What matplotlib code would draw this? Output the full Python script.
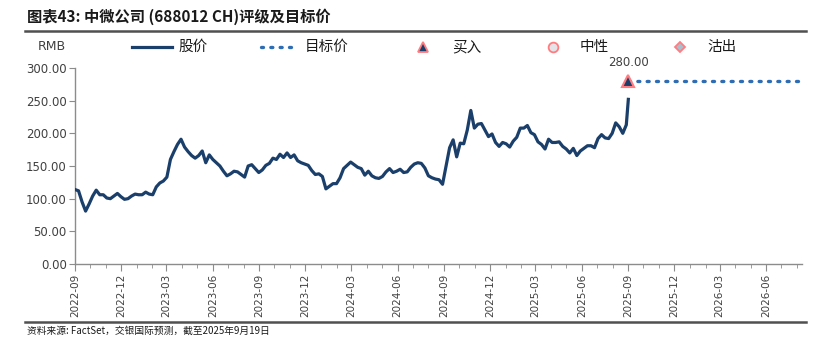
import matplotlib
matplotlib.use("Agg")
import matplotlib.pyplot as plt
from matplotlib.lines import Line2D
from matplotlib.ticker import FuncFormatter, MultipleLocator
import pandas as pd

plt.rcParams['font.family'] = ['Noto Sans CJK SC', 'DejaVu Sans']

# ---- data ----
start_date = "2022-09-19"
last_date = "2025-09-19"
weekly_prices = [
    114, 112, 95, 81, 92, 104, 113, 106, 106, 101,
    100, 104, 108, 103, 99, 100, 104, 107, 106, 106,
    110, 107, 106, 118, 124, 127, 133, 160, 172, 183,
    191, 179, 172, 166, 162, 166, 173, 155, 167, 160,
    155, 150, 142, 135, 138, 142, 141, 137, 133, 150,
    152, 146, 140, 144, 151, 154, 162, 160, 168, 163,
    170, 163, 167, 158, 155, 153, 151, 143, 137, 138,
    134, 115, 119, 123, 123, 132, 146, 151, 156, 152,
    148, 146, 136, 142, 135, 132, 131, 134, 141, 146,
    140, 142, 145, 140, 141, 148, 153, 155, 154, 147,
    135, 132, 130, 129, 122, 150, 178, 190, 164, 185,
    184, 205, 235, 208, 214, 215, 205, 195, 199, 186,
    180, 186, 184, 179, 188, 194, 208, 208, 212, 201,
    198, 187, 183, 176, 191, 186, 186, 187, 180, 176,
    170, 177, 166, 173, 177, 181, 181, 178, 192, 198,
    193, 192, 200, 216, 210, 200, 213,
]
last_price = 252
target_price = 280.00
target_end = "2026-08-29"
axis_start = "2022-09-19"
tick_labels = ["2022-09", "2022-12", "2023-03", "2023-06", "2023-09", "2023-12",
               "2024-03", "2024-06", "2024-09", "2024-12", "2025-03", "2025-06",
               "2025-09", "2025-12", "2026-03", "2026-06"]

dates = list(pd.date_range(start_date, periods=len(weekly_prices), freq="7D")) + [pd.Timestamp(last_date)]
prices = weekly_prices + [last_price]

navy = "#1B3F6B"
dot_blue = "#2E6DB4"
pink = "#FF7C80"
grey_txt = "#404040"

fig = plt.figure(figsize=(8.21, 3.54), dpi=100)
ax = fig.add_axes([75/821, (354-264)/354, (802-75)/821, 196/354])

ax.plot(dates, prices, color=navy, lw=2.3, solid_joinstyle="round", zorder=3)
ax.plot([pd.Timestamp(last_date), pd.Timestamp(target_end)], [target_price, target_price],
        color=dot_blue, lw=2.4, linestyle=(0, (0.6, 2.2)), dash_capstyle="round", zorder=2)
ax.plot([pd.Timestamp(last_date)], [target_price], marker="^", ms=9, mfc=navy, mec=pink,
        mew=1.5, ls="none", zorder=4)
ax.annotate(f"{target_price:.2f}", (pd.Timestamp(last_date), target_price), xytext=(0, 9),
            textcoords="offset points", ha="center", va="bottom", fontsize=8.5, color=grey_txt,
            family=["DejaVu Sans"])

ax.set_xlim(pd.Timestamp(axis_start), pd.Timestamp(target_end))
ax.set_ylim(0, 300)
ax.yaxis.set_major_locator(MultipleLocator(50))
ax.yaxis.set_major_formatter(FuncFormatter(lambda v, p: f"{v:.2f}"))

major = [pd.Timestamp(t + "-19") for t in tick_labels]
minor = pd.date_range("2022-09-01", "2026-08-01", freq="MS") + pd.Timedelta(days=18)
ax.set_xticks(major)
ax.set_xticks(minor, minor=True)
ax.set_xticklabels(tick_labels, rotation=90, fontsize=7.5,
                   color=grey_txt, family=["DejaVu Sans"])
for lab in ax.get_yticklabels():
    lab.set_fontsize(8.5)
    lab.set_color(grey_txt)
    lab.set_family(["DejaVu Sans"])

for s in ["top", "right"]:
    ax.spines[s].set_visible(False)
for s in ["left", "bottom"]:
    ax.spines[s].set_color("#8C8C8C")
    ax.spines[s].set_linewidth(1.0)
ax.tick_params(axis="y", which="major", length=4, color="#8C8C8C", pad=2)
ax.tick_params(axis="x", which="major", length=5, color="#8C8C8C", pad=2)
ax.tick_params(axis="x", which="minor", length=3, color="#8C8C8C")

# title and rules
fig.text(27/821, 1 - 17/354, "图表43: 中微公司 (688012 CH)评级及目标价", fontsize=11,
         fontweight="bold", va="center", ha="left", color="#1a1a1a")
fig.add_artist(Line2D([25/821, 806/821], [1 - 31/354, 1 - 31/354], color="#505050", lw=1.8))
fig.add_artist(Line2D([25/821, 806/821], [1 - 322/354, 1 - 322/354], color="#505050", lw=1.8))
fig.text(27/821, 1 - 331/354, "资料来源: FactSet，交银国际预测，截至2025年9月19日", fontsize=7,
         style="italic", va="center", ha="left", color="#1a1a1a")

# legend row
ly = 1 - 47/354
fig.text(38/821, ly, "RMB", fontsize=9, va="center", ha="left", color=grey_txt,
         family=["DejaVu Sans"])
fig.add_artist(Line2D([132/821, 172/821], [ly, ly], color=navy, lw=2.3))
fig.text(178/821, ly, "股价", fontsize=10.5, va="center", ha="left", color="#1a1a1a")
fig.add_artist(Line2D([261/821, 298/821], [ly, ly], color=dot_blue, lw=2.4,
                      linestyle=(0, (0.6, 2.2)), dash_capstyle="round"))
fig.text(305/821, ly, "目标价", fontsize=10.5, va="center", ha="left", color="#1a1a1a")
fig.add_artist(Line2D([423/821], [ly], marker="^", ms=7, mfc=navy, mec=pink, mew=1.3))
fig.text(452/821, ly, "买入", fontsize=10.5, va="center", ha="left", color="#1a1a1a")
fig.add_artist(Line2D([553/821], [ly], marker="o", ms=7, mfc="#E4E4E8", mec=pink, mew=1.3))
fig.text(580/821, ly, "中性", fontsize=10.5, va="center", ha="left", color="#1a1a1a")
fig.add_artist(Line2D([680/821], [ly], marker="D", ms=5.5, mfc="#A9C0CC", mec=pink, mew=1.3))
fig.text(707/821, ly, "沽出", fontsize=10.5, va="center", ha="left", color="#1a1a1a")

fig.savefig("out.png", dpi=100)
